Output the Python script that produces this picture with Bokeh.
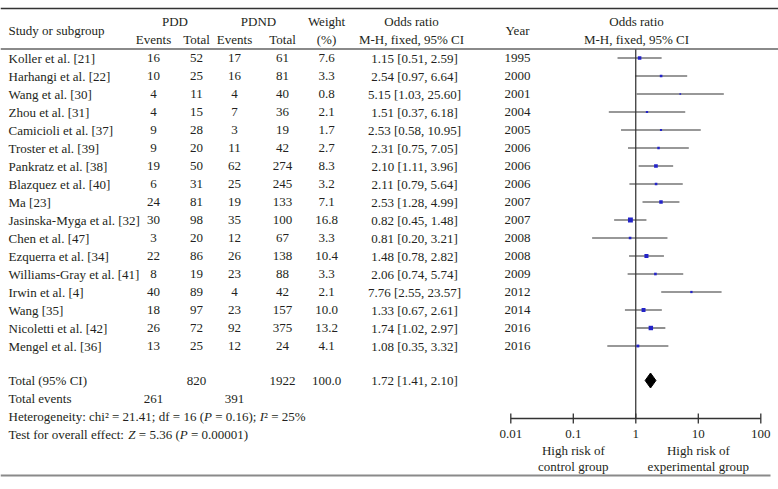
from bokeh.plotting import figure
from bokeh.models import Range1d, LogScale
from bokeh.core.properties import value
from bokeh.embed import file_html
from bokeh.resources import INLINE

# ---------------- data ----------------
studies = ["Koller et al. [21]", "Harhangi et al. [22]", "Wang et al. [30]", "Zhou et al. [31]",
           "Camicioli et al. [37]", "Troster et al. [39]", "Pankratz et al. [38]", "Blazquez et al. [40]",
           "Ma [23]", "Jasinska-Myga et al. [32]", "Chen et al. [47]", "Ezquerra et al. [34]",
           "Williams-Gray et al. [41]", "Irwin et al. [4]", "Wang [35]", "Nicoletti et al. [42]",
           "Mengel et al. [36]"]
pdd_events = [16, 10, 4, 4, 9, 9, 19, 6, 24, 30, 3, 22, 8, 40, 18, 26, 13]
pdd_total = [52, 25, 11, 15, 28, 20, 50, 31, 81, 98, 20, 86, 19, 89, 97, 72, 25]
pdnd_events = [17, 16, 4, 7, 3, 11, 62, 25, 19, 35, 12, 26, 23, 4, 23, 92, 12]
pdnd_total = [61, 81, 40, 36, 19, 42, 274, 245, 133, 100, 67, 138, 88, 42, 157, 375, 24]
weight = [7.6, 3.3, 0.8, 2.1, 1.7, 2.7, 8.3, 3.2, 7.1, 16.8, 3.3, 10.4, 3.3, 2.1, 10.0, 13.2, 4.1]
or_est = [1.15, 2.54, 5.15, 1.51, 2.53, 2.31, 2.10, 2.11, 2.53, 0.82, 0.81, 1.48, 2.06, 7.76, 1.33, 1.74, 1.08]
or_low = [0.51, 0.97, 1.03, 0.37, 0.58, 0.75, 1.11, 0.79, 1.28, 0.45, 0.20, 0.78, 0.74, 2.55, 0.67, 1.02, 0.35]
or_high = [2.59, 6.64, 25.60, 6.18, 10.95, 7.05, 3.96, 5.64, 4.99, 1.48, 3.21, 2.82, 5.74, 23.57, 2.61, 2.97, 3.32]
years = [1995, 2000, 2001, 2004, 2005, 2006, 2006, 2006, 2007, 2007, 2008, 2008, 2009, 2012, 2014, 2016, 2016]

total_pdd = 820
total_pdnd = 1922
total_weight = 100.0
total_or = 1.72
total_low = 1.41
total_high = 2.10
total_events_pdd = 261
total_events_pdnd = 391
# (text, italic) pieces of the two footnote lines
heterogeneity = [("Heterogeneity: chi\u00b2 = 21.41; df = 16 (", False), ("P", True),
                 (" = 0.16); ", False), ("I", True), ("\u00b2 = 25%", False)]
overall = [("Test for overall effect: ", False), ("Z", True), (" = 5.36 (", False),
           ("P", True), (" = 0.00001)", False)]

axis_ticks = [0.01, 0.1, 1, 10, 100]
axis_labels = ["0.01", "0.1", "1", "10", "100"]

# ---------------- layout / style ----------------
W, H = 778, 489
FONT = "Liberation Serif"
FSIZE = 13
FS = f"{FSIZE}px"
TC = "#231f20"
BLUE = "#2323c8"
X1, DEC = 635.3, 62.5          # screen x of OR = 1, pixels per decade
ROW0, ROWH = 57.5, 18.0
TOTAL_Y, EVENTS_Y, HET_Y, TEST_Y = 380, 398, 416, 434
AXIS_Y = 418

C_PDD_E, C_PDD_T, C_PDND_E, C_PDND_T, C_W, C_OR, C_YEAR = 153, 196, 234, 282, 326, 414, 517

# Times-compatible advance widths (per 1000 em) used to place italic pieces
REG_W = {' ': 250, '(': 333, ')': 333, '.': 250, ':': 278, ';': 278, '=': 564, '%': 833,
         '\u00b2': 300, 'H': 722, 'T': 611, 'a': 444, 'c': 444, 'd': 500, 'e': 444, 'f': 333,
         'g': 500, 'h': 500, 'i': 278, 'l': 278, 'n': 500, 'o': 500, 'r': 333, 's': 389,
         't': 278, 'v': 500, 'y': 500}
ITA_W = {'P': 611, 'I': 333, 'Z': 556}

p = figure(width=W, height=H, x_range=Range1d(0, W), y_range=Range1d(H, 0),
           output_backend="svg", toolbar_location=None,
           x_axis_location=None, y_axis_location=None, min_border=0,
           outline_line_color=None, background_fill_color="white")
p.xgrid.visible = False
p.ygrid.visible = False
p.extra_x_ranges = {"or": Range1d(10 ** ((0 - X1) / DEC), 10 ** ((W - X1) / DEC))}
p.extra_x_scales = {"or": LogScale()}


def txt(x, y, text, align="center", range_name="default", size=FS, style="normal"):
    p.text(x=x, y=y, text=text, text_align=align, text_baseline="middle",
           text_font=value(FONT), text_font_size=size, text_color=TC,
           text_font_style=style, x_range_name=range_name)


def rich(x, y, pieces):
    for s, ital in pieces:
        table = ITA_W if ital else REG_W
        body = s.lstrip(" ")
        x += (len(s) - len(body)) * REG_W[" "] * FSIZE / 1000.0   # SVG drops leading spaces
        txt([x], [y], [body.rstrip(" ")], align="left", style="italic" if ital else "normal")
        x += sum(table.get(ch, 500) for ch in body) * FSIZE / 1000.0


rows_y = [ROW0 + i * ROWH for i in range(len(studies))]

# rules
p.segment(x0=[0], x1=[W], y0=[8], y1=[8], line_color="#333333", line_width=1.3)
p.segment(x0=[0], x1=[W], y0=[48.5], y1=[48.5], line_color="#8a8a8a", line_width=2)
p.segment(x0=[0], x1=[770], y0=[475], y1=[475], line_color="#8a8a8a", line_width=2)

# headers
txt([8], [30], ["Study or subgroup"], align="left")
txt([(C_PDD_E + C_PDD_T) / 2], [21], ["PDD"])
txt([(C_PDND_E + C_PDND_T) / 2], [21], ["PDND"])
txt([C_PDD_E, C_PDD_T, C_PDND_E, C_PDND_T], [39] * 4, ["Events", "Total", "Events", "Total"])
txt([C_W, C_W], [21, 39], ["Weight", "(%)"])
txt([C_OR - 3, C_OR - 3], [21, 39], ["Odds ratio", "M-H, fixed, 95% CI"])
txt([C_YEAR], [30], ["Year"])
txt([636, 636], [21, 39], ["Odds ratio", "M-H, fixed, 95% CI"])

# table body
txt(8, rows_y, studies, align="left")
txt(C_PDD_E, rows_y, [str(v) for v in pdd_events])
txt(C_PDD_T, rows_y, [str(v) for v in pdd_total])
txt(C_PDND_E, rows_y, [str(v) for v in pdnd_events])
txt(C_PDND_T, rows_y, [str(v) for v in pdnd_total])
txt(C_W, rows_y, [f"{w:.1f}" for w in weight])
txt(C_OR, rows_y, [f"{e:.2f} [{l:.2f}, {h:.2f}]" for e, l, h in zip(or_est, or_low, or_high)])
txt(C_YEAR, rows_y, [str(y) for y in years])

# totals
txt([8], [TOTAL_Y], ["Total (95% CI)"], align="left")
txt([C_PDD_T, C_PDND_T, C_W, C_OR], [TOTAL_Y] * 4,
    [str(total_pdd), str(total_pdnd), f"{total_weight:.1f}",
     f"{total_or:.2f} [{total_low:.2f}, {total_high:.2f}]"])
txt([8], [EVENTS_Y], ["Total events"], align="left")
txt([C_PDD_E, C_PDND_E], [EVENTS_Y] * 2, [str(total_events_pdd), str(total_events_pdnd)])
rich(8, HET_Y, heterogeneity)
rich(8, TEST_Y, overall)

# forest plot
p.segment(x0=[1], x1=[1], y0=[49], y1=[AXIS_Y], x_range_name="or", line_color="black", line_width=1)
p.segment(x0=or_low, x1=or_high, y0=rows_y, y1=rows_y, x_range_name="or",
          line_color="#333333", line_width=1.1)
sizes = [0.8 + 1.0 * w ** 0.5 for w in weight]
p.scatter(x=or_est, y=rows_y, size=sizes, marker="square", x_range_name="or",
          fill_color=BLUE, line_color=None)
p.patch(x=[total_low, total_or, total_high, total_or],
        y=[TOTAL_Y, TOTAL_Y - 7.5, TOTAL_Y, TOTAL_Y + 7.5],
        x_range_name="or", fill_color="black", line_color="black")

# axis
p.segment(x0=[axis_ticks[0]], x1=[axis_ticks[-1]], y0=[AXIS_Y], y1=[AXIS_Y], x_range_name="or",
          line_color="#333333", line_width=1.3)
p.segment(x0=axis_ticks, x1=axis_ticks, y0=[AXIS_Y - 5] * 5, y1=[AXIS_Y + 5] * 5, x_range_name="or",
          line_color="#333333", line_width=1.3)
txt(axis_ticks, [433] * 5, axis_labels, range_name="or")
txt([0.1, 10, 0.1, 10], [450, 450, 466, 466],
    ["High risk of", "High risk of", "control group", "experimental group"], range_name="or")

open("out.html", "w").write(file_html(p, INLINE))
